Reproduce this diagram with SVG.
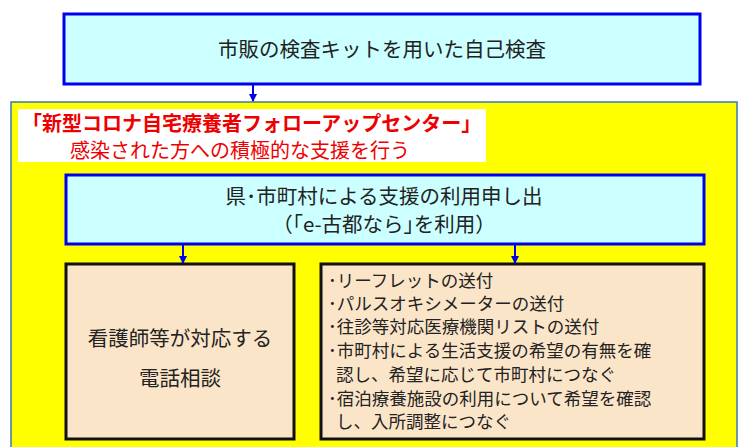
<svg xmlns="http://www.w3.org/2000/svg" width="739" height="447" viewBox="0 0 739 447">
<style>
text{font-family:"Noto Sans CJK JP","Noto Sans",sans-serif;fill:#222}
.blue{fill:#ccffff;stroke:#0000ee;stroke-width:3}
.cream{fill:#fbe5c8;stroke:#111;stroke-width:3}
.c line{stroke:#0000ee;stroke-width:2}
</style>
<defs><marker id="a" markerWidth="8" markerHeight="8" refX="7" refY="4" orient="auto" markerUnits="userSpaceOnUse"><path d="M0,0L8,4L0,8z" fill="#0000ee"/></marker></defs>
<rect x="0" y="0" width="739" height="447" fill="#fff"/>
<g id="center"><rect x="11" y="102" width="726" height="350" fill="#ffff00" stroke="#3a7ab0" stroke-width="1.5"/>
<rect x="18" y="109" width="468" height="53" fill="#fff"/>
<text x="22" y="131" font-size="20" font-weight="bold" style="fill:#ee0000">「新型コロナ自宅療養者フォローアップセンター」</text>
<text x="70" y="158" font-size="20" style="fill:#ee0000">感染された方への積極的な支援を行う</text></g>
<g id="top"><rect class="blue" x="64" y="14" width="636" height="70"/><text x="382" y="57" font-size="20.5" text-anchor="middle">市販の検査キットを用いた自己検査</text></g>
<g id="apply"><rect class="blue" x="66" y="175" width="638" height="69"/>
<text x="384" y="204" font-size="20.5" text-anchor="middle">県･市町村による支援の利用申し出</text>
<text x="384" y="232" font-size="20.5" text-anchor="middle">（｢e-古都なら｣を利用）</text></g>
<g id="phone"><rect class="cream" x="66" y="264" width="228" height="175"/>
<text x="180" y="346" font-size="20.5" text-anchor="middle">看護師等が対応する</text>
<text x="180" y="386" font-size="20.5" text-anchor="middle">電話相談</text></g>
<g id="list"><rect class="cream" x="321" y="264" width="383" height="175"/>
<g font-size="17.5"><text x="328" y="287">･リーフレットの送付</text>
<text x="328" y="310">･パルスオキシメーターの送付</text>
<text x="328" y="333">･往診等対応医療機関リストの送付</text>
<text x="328" y="357">･市町村による生活支援の希望の有無を確</text>
<text x="336" y="381">認し、希望に応じて市町村につなぐ</text>
<text x="328" y="405">･宿泊療養施設の利用について希望を確認</text>
<text x="336" y="428">し、入所調整につなぐ</text></g></g>
<g class="c"><line x1="253" y1="85" x2="253" y2="101" marker-end="url(#a)"/>
<line x1="183" y1="245" x2="183" y2="263" marker-end="url(#a)"/>
<line x1="515" y1="245" x2="515" y2="263" marker-end="url(#a)"/></g>
</svg>
